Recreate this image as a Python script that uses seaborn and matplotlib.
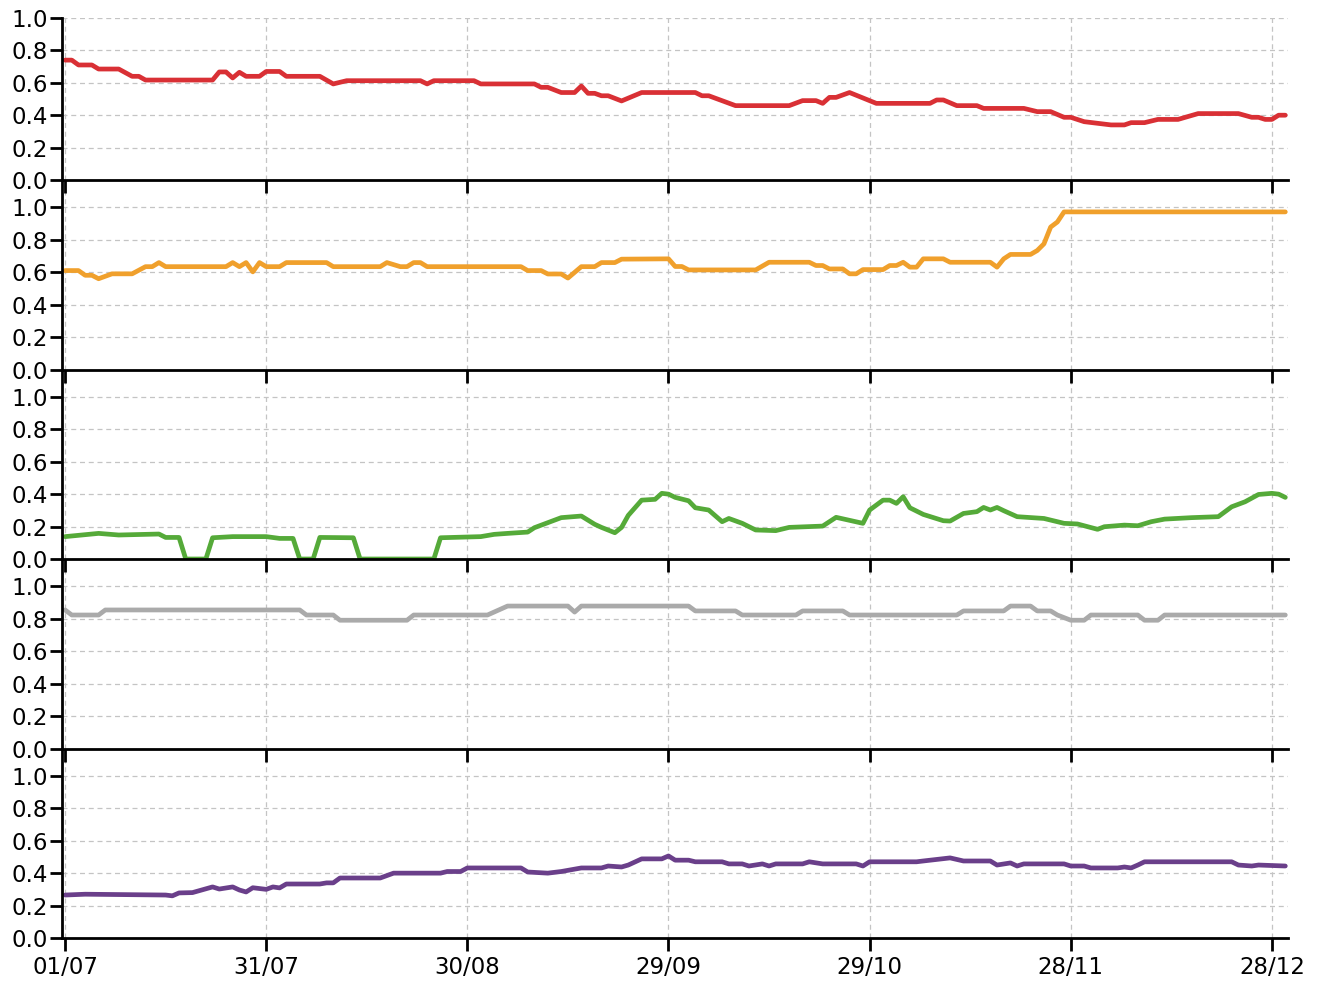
import numpy as np
import pandas as pd
import matplotlib
matplotlib.use("Agg")
import matplotlib.pyplot as plt
import matplotlib.dates as mdates
import seaborn as sns

# jours depuis le 01/07 et valeurs
start = pd.Timestamp("2020-07-01")

red_days = [0, 1, 2, 4, 5, 8, 10, 11, 12, 22, 23, 24, 25, 26, 27, 29, 30, 32, 33, 38,
            40, 42, 53, 54, 55, 61, 62, 70, 71, 72, 74, 76, 77, 78, 79, 80, 81, 83, 86, 94,
            95, 96, 100, 108, 110, 112, 113, 114, 115, 117, 121, 129, 130, 131, 133, 136, 137, 143, 145, 147,
            149, 150, 152, 154, 156, 158, 159, 161, 163, 166, 169, 175, 177, 178, 179, 180, 181, 182]
red_vals = [0.74, 0.74, 0.71, 0.71, 0.685, 0.685, 0.64, 0.64, 0.617, 0.617,
            0.667, 0.667, 0.63, 0.665, 0.64, 0.64, 0.67, 0.67, 0.64, 0.64,
            0.593, 0.613, 0.613, 0.593, 0.613, 0.613, 0.593, 0.593, 0.572, 0.572,
            0.54, 0.54, 0.58, 0.535, 0.535, 0.52, 0.52, 0.488, 0.54, 0.54,
            0.52, 0.52, 0.459, 0.459, 0.49, 0.49, 0.473, 0.51, 0.51, 0.54,
            0.473, 0.473, 0.494, 0.494, 0.459, 0.459, 0.442, 0.442, 0.422, 0.422,
            0.387, 0.387, 0.36, 0.35, 0.34, 0.34, 0.354, 0.354, 0.374, 0.374,
            0.41, 0.41, 0.387, 0.387, 0.374, 0.374, 0.40, 0.40]

orange_days = [0, 2, 3, 4, 5, 7, 10, 12, 13, 14, 15, 24, 25, 26, 27, 28, 29, 30, 32, 33,
               39, 40, 47, 48, 50, 51, 52, 53, 54, 68, 69, 71, 72, 74, 75, 77, 79, 80, 82, 83,
               90, 91, 92, 93, 103, 105, 111, 112, 113, 114, 116, 117, 118, 119, 122, 123, 124, 125, 126, 127,
               128, 131, 132, 138, 139, 140, 141, 144, 145, 146, 147, 148, 149, 182]
orange_vals = [0.61, 0.61, 0.581, 0.581, 0.56, 0.59, 0.59, 0.634, 0.634, 0.659,
               0.634, 0.634, 0.659, 0.634, 0.659, 0.602, 0.659, 0.634, 0.634, 0.659,
               0.659, 0.634, 0.634, 0.659, 0.634, 0.634, 0.659, 0.659, 0.634, 0.634,
               0.61, 0.61, 0.589, 0.589, 0.564, 0.634, 0.634, 0.659, 0.659, 0.68,
               0.682, 0.635, 0.635, 0.614, 0.614, 0.661, 0.661, 0.641, 0.641, 0.62,
               0.62, 0.59, 0.59, 0.616, 0.616, 0.641, 0.641, 0.661, 0.631, 0.631,
               0.682, 0.682, 0.661, 0.661, 0.631, 0.682, 0.709, 0.709, 0.733, 0.774,
               0.877, 0.908, 0.97, 0.97]

green_days = [0, 5, 8, 14, 15, 17, 18, 21, 22, 25, 30, 32, 34, 35, 37, 38, 43, 44, 55, 56,
              62, 64, 66, 69, 70, 74, 77, 79, 80, 82, 83, 84, 86, 88, 89, 90, 91, 93, 94, 96,
              98, 99, 101, 103, 106, 108, 113, 115, 119, 120, 122, 123, 124, 125, 126, 128, 131, 132, 134, 136,
              137, 138, 139, 140, 142, 146, 149, 151, 154, 155, 158, 160, 162, 164, 168, 172, 174, 176, 178, 180,
              181, 182]
green_vals = [0.138, 0.158, 0.148, 0.154, 0.133, 0.133, 0.0, 0.0, 0.131, 0.138,
              0.138, 0.127, 0.127, 0.0, 0.0, 0.133, 0.131, 0.0, 0.0, 0.131,
              0.138, 0.152, 0.158, 0.166, 0.193, 0.255, 0.265, 0.214, 0.195, 0.162,
              0.195, 0.269, 0.363, 0.368, 0.405, 0.40, 0.38, 0.359, 0.316, 0.302,
              0.23, 0.25, 0.22, 0.179, 0.175, 0.195, 0.203, 0.257, 0.22, 0.302,
              0.363, 0.363, 0.343, 0.384, 0.316, 0.275, 0.236, 0.234, 0.281, 0.292,
              0.318, 0.302, 0.318, 0.298, 0.261, 0.25, 0.22, 0.216, 0.183, 0.199,
              0.209, 0.205, 0.23, 0.246, 0.255, 0.261, 0.322, 0.353, 0.398, 0.405,
              0.40, 0.38]

gray_days = [0, 1, 5, 6, 35, 36, 40, 41, 51, 52, 63, 66, 75, 76, 77, 93, 94, 100, 101, 109,
             110, 116, 117, 133, 134, 140, 141, 144, 145, 147, 148, 150, 152, 153, 160, 161, 163, 164, 182]
gray_vals = [0.853, 0.822, 0.822, 0.853, 0.853, 0.822, 0.822, 0.79, 0.79, 0.822,
             0.822, 0.877, 0.877, 0.84, 0.877, 0.877, 0.847, 0.847, 0.822, 0.822,
             0.847, 0.847, 0.822, 0.822, 0.847, 0.847, 0.877, 0.877, 0.847, 0.847,
             0.822, 0.79, 0.79, 0.822, 0.822, 0.79, 0.79, 0.822, 0.822]

purple_days = [0, 3, 15, 16, 17, 19, 22, 23, 25, 26, 27, 28, 30, 31, 32, 33, 38, 39, 40, 41,
               47, 49, 56, 57, 59, 60, 68, 69, 72, 74, 77, 80, 81, 83, 84, 86, 89, 90, 91, 93,
               94, 98, 99, 101, 102, 104, 105, 106, 110, 111, 113, 118, 119, 120, 127, 128, 132, 134, 138, 139,
               141, 142, 143, 149, 150, 152, 153, 157, 158, 159, 160, 161, 174, 175, 177, 178, 182]
purple_vals = [0.265, 0.27, 0.265, 0.26, 0.278, 0.28, 0.315, 0.302, 0.315, 0.296,
               0.284, 0.31, 0.30, 0.315, 0.309, 0.333, 0.333, 0.34, 0.34, 0.37,
               0.37, 0.40, 0.40, 0.41, 0.41, 0.432, 0.432, 0.407, 0.40, 0.41,
               0.432, 0.432, 0.444, 0.438, 0.45, 0.488, 0.488, 0.506, 0.48, 0.48,
               0.47, 0.47, 0.457, 0.457, 0.444, 0.457, 0.444, 0.457, 0.457, 0.47,
               0.457, 0.457, 0.444, 0.47, 0.47, 0.475, 0.494, 0.475, 0.475, 0.45,
               0.463, 0.444, 0.457, 0.457, 0.444, 0.444, 0.432, 0.432, 0.438, 0.432,
               0.45, 0.47, 0.47, 0.45, 0.444, 0.45, 0.444]

series = [
    (red_days, red_vals, "#d93035"),
    (orange_days, orange_vals, "#f0a02c"),
    (green_days, green_vals, "#55aa39"),
    (gray_days, gray_vals, "#aaaaaa"),
    (purple_days, purple_vals, "#6a3f8a"),
]

tick_dates = [start + pd.Timedelta(days=d) for d in range(0, 181, 30)]
yticks = [0.0, 0.2, 0.4, 0.6, 0.8, 1.0]

sns.set_style("ticks")
plt.rcParams["font.family"] = ["DejaVu Sans"]

fig = plt.figure(figsize=(13.24, 9.83), dpi=100)
gs = fig.add_gridspec(5, 1, height_ratios=[162, 190, 189, 190, 189],
                      left=62 / 1324, right=1288 / 1324,
                      top=1 - 18 / 983, bottom=1 - 938 / 983, hspace=0)

for i, (days, vals, color) in enumerate(series):
    ax = fig.add_subplot(gs[i])
    # les panneaux du haut passent devant pour garder leurs ticks x visibles
    ax.set_zorder(10 - i)
    ax.patch.set_visible(False)
    dates = [start + pd.Timedelta(days=d) for d in days]
    sns.lineplot(x=dates, y=vals, ax=ax, color=color, linewidth=3.4)
    ax.set_xlim(start - pd.Timedelta(hours=11), start + pd.Timedelta(days=182.4))
    ax.set_ylim(0, 1.0 if i == 0 else 190 / 163)
    ax.set_yticks(yticks)
    ax.set_yticklabels([f"{t:.1f}" for t in yticks])
    ax.set_xticks(tick_dates)
    ax.xaxis.set_major_formatter(mdates.DateFormatter("%d/%m"))
    if i < 4:
        ax.tick_params(axis="x", labelbottom=False)
    ax.grid(True, color="#c4c4c4", linestyle="--", linewidth=0.9, dashes=(4, 3))
    ax.tick_params(axis="both", direction="out", length=9, width=2, labelsize=16.5, colors="black")
    ax.tick_params(axis="y", pad=1)
    ax.tick_params(axis="x", pad=4)
    for s in ["top", "right"]:
        ax.spines[s].set_visible(False)
    for s in ["left", "bottom"]:
        ax.spines[s].set_linewidth(2)
        ax.spines[s].set_color("black")
    ax.set_xlabel("")
    ax.set_ylabel("")

fig.savefig("out.png", dpi=100)
